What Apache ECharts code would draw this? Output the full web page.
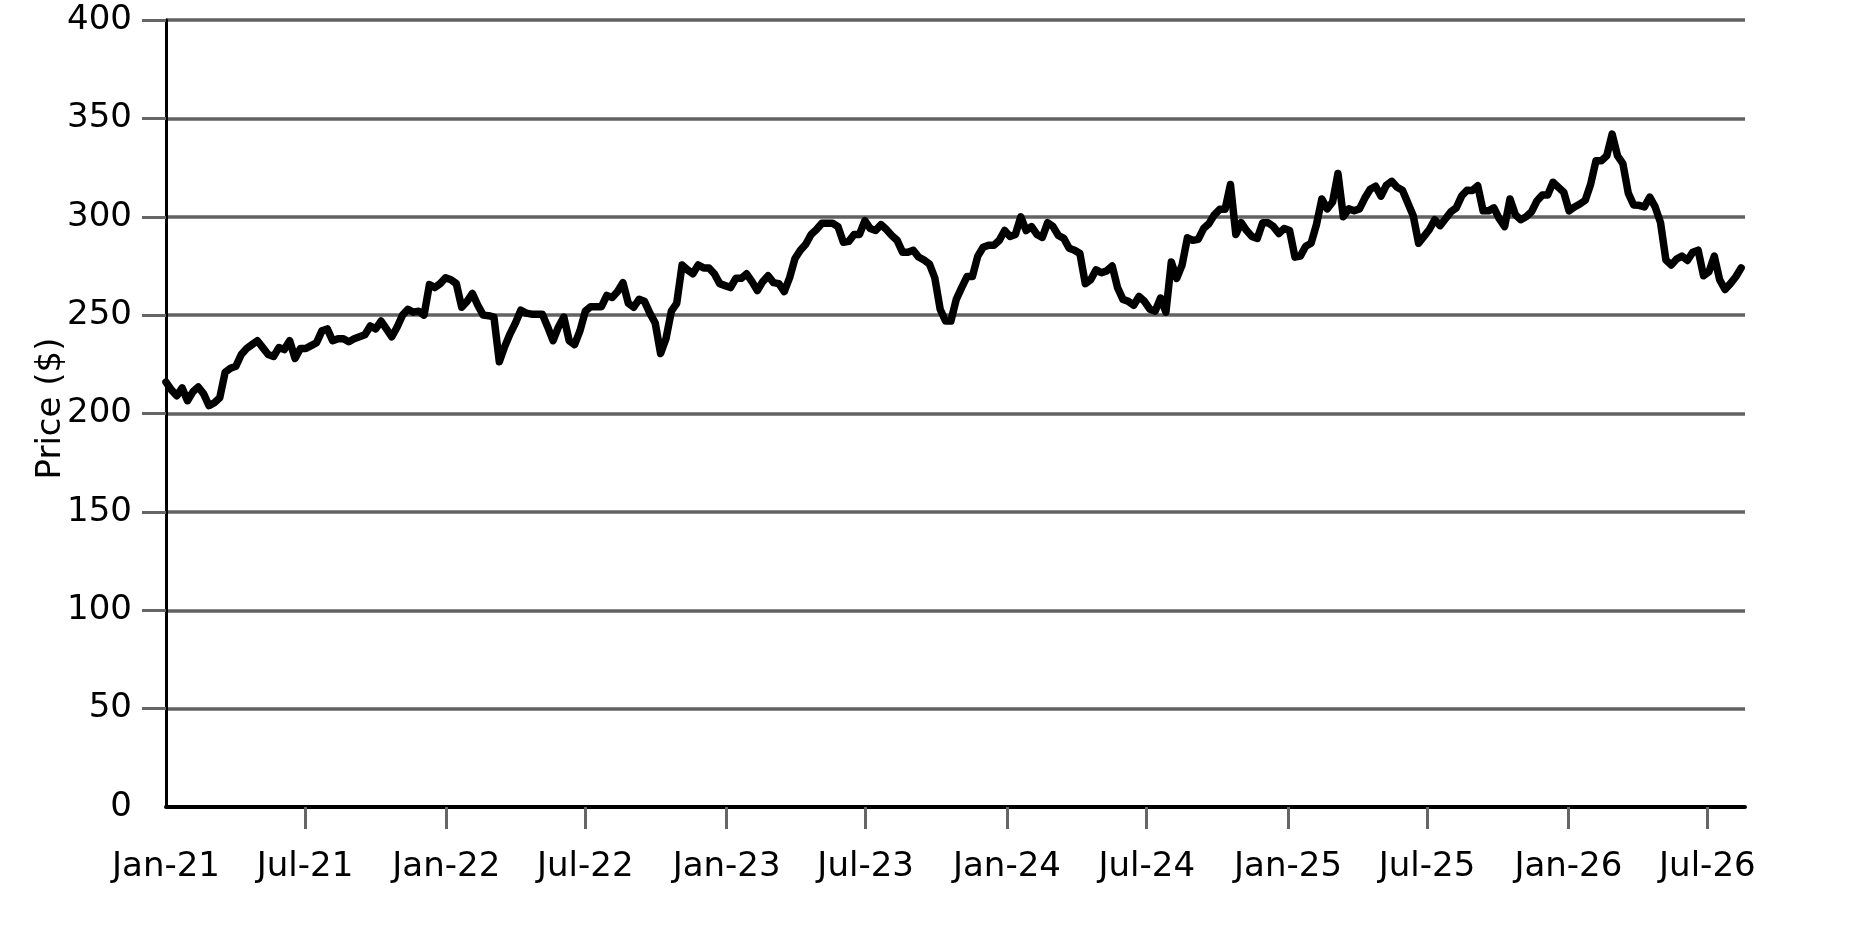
<!DOCTYPE html>
<html>
<head>
<meta charset="utf-8">
<script src="https://cdn.jsdelivr.net/npm/echarts@6/dist/echarts.min.js"></script>
<style>
html,body{margin:0;padding:0;background:#fff;}
#chart{width:1875px;height:938px;}
</style>
</head>
<body>
<div id="chart"></div>
<script>
// ---- data (weekly closing prices) ----
const startYear = 2021, startMonth = 0, startDay = 1; // first weekly observation
const prices = [
216, 212, 209, 213, 206.5, 211, 213.5, 210, 204, 205.5,
208, 221, 223, 224, 230, 233, 235, 237, 233.5, 230,
229, 233.5, 232.5, 237, 228, 233, 233, 234.5, 236, 242,
243, 237, 238, 238, 236.5, 238, 239, 240, 244.5, 243,
247, 243, 239, 244, 250, 253, 251.5, 252, 250, 265.5,
264, 266, 269, 268, 266, 254, 257, 261, 255, 250,
249.7, 249, 226.3, 234, 240.5, 246, 252.5, 251, 250.5, 250.5,
250.5, 244, 237, 244, 249, 237, 235, 242, 252, 254.3,
254.3, 254.3, 260, 259, 262, 266.5, 256, 254, 258, 257,
251, 246, 230.5, 238, 252, 256, 275.5, 273, 271, 275.5,
274, 274, 271, 266, 265, 264, 268.7, 268.7, 271, 267,
262.5, 267, 270, 266.5, 266, 262, 269, 278.8, 283, 286,
291, 293.5, 296.7, 296.7, 296.7, 295, 287, 287.5, 291, 291,
298, 294, 293, 296, 293.5, 290.5, 288, 282, 282, 283,
279.5, 278, 276, 269, 253, 247, 247, 258, 264, 269.6,
269.6, 280, 284.5, 285.5, 285.5, 288, 293, 290, 291, 300,
293, 295, 291, 289.5, 297, 295, 290.5, 289, 284, 283,
281.3, 266, 268, 273, 271.5, 272.5, 275, 264, 258, 257,
255, 259.5, 257, 253, 252, 258.7, 251.5, 277, 268.7, 275.4,
289.3, 288, 288.5, 294, 296.5, 301, 303.8, 303.8, 316.4, 291,
297, 293, 290, 289, 297, 297, 295, 291.5, 294, 293,
279.5, 280, 285, 286.5, 296, 309, 304, 307.5, 322, 300,
304, 303, 304, 309.5, 314, 315.5, 310.5, 316, 318, 315,
313.5, 307, 300.5, 286.5, 290, 293.5, 298.5, 295.5, 299, 302.5,
304.5, 310.5, 313.5, 313.3, 315.8, 303, 303, 304.5, 299, 295,
309, 301, 298.5, 300, 302.5, 308, 311, 311, 317.5, 315,
312.5, 303, 305, 306.5, 308.4, 316.5, 328.5, 328.5, 331, 342,
331, 327, 312, 306, 305.8, 305, 310, 305, 297, 278,
275.5, 278.5, 280, 277.8, 282, 283, 270, 272, 280, 268,
263, 266, 269.5, 274
];
const tickLabels = ['Jan-21','Jul-21','Jan-22','Jul-22','Jan-23','Jul-23','Jan-24','Jul-24','Jan-25','Jul-25','Jan-26','Jul-26'];
const tickDates = [[2021,0],[2021,6],[2022,0],[2022,6],[2023,0],[2023,6],[2024,0],[2024,6],[2025,0],[2025,6],[2026,0],[2026,6]];
const yTicks = [0, 50, 100, 150, 200, 250, 300, 350, 400];
const axisEnd = [2026, 7, 19];

// ---- build series (x = timestamp in ms) ----
const seriesData = prices.map((v, i) => [new Date(startYear, startMonth, startDay + 7 * i).getTime(), v]);
const tickTimes = tickDates.map(d => new Date(d[0], d[1], 1).getTime());
const xMin = new Date(startYear, startMonth, startDay).getTime();
const xMax = new Date(axisEnd[0], axisEnd[1], axisEnd[2]).getTime();

const FONT = 'DejaVu Sans';
const chart = echarts.init(document.getElementById('chart'), null, {renderer: 'canvas'});
chart.setOption({
  animation: false,
  backgroundColor: '#ffffff',
  grid: {left: 166, right: 130, top: 20, bottom: 131, containLabel: false},
  xAxis: {
    type: 'value',
    min: xMin,
    max: xMax,
    scale: true,
    axisLine: {show: true, onZero: false, lineStyle: {color: '#000', width: 4}},
    axisTick: {show: true, customValues: tickTimes.slice(1), length: 22, lineStyle: {color: '#666', width: 3}},
    axisLabel: {
      show: true,
      customValues: tickTimes,
      margin: 43,
      color: '#000',
      fontFamily: FONT,
      fontSize: 34,
      showMinLabel: true,
      showMaxLabel: true,
      formatter: function (val) {
        let best = 0, bd = Infinity;
        for (let k = 0; k < tickTimes.length; k++) {
          const d = Math.abs(tickTimes[k] - val);
          if (d < bd) { bd = d; best = k; }
        }
        return tickLabels[best];
      }
    },
    splitLine: {show: false}
  },
  yAxis: {
    type: 'value',
    min: 0,
    max: 400,
    interval: 50,
    name: 'Price ($)',
    nameLocation: 'middle',
    nameGap: 98,
    nameMoveOverlap: false,
    nameRotate: 90,
    nameTextStyle: {color: '#000', fontFamily: FONT, fontSize: 34, padding: [0, 0, 0, 10]},
    axisLine: {show: true, lineStyle: {color: '#000', width: 3}},
    axisTick: {show: true, customValues: yTicks.slice(1), length: 24, lineStyle: {color: '#666', width: 3}},
    axisLabel: {color: '#000', fontFamily: FONT, fontSize: 34, margin: 34},
    splitLine: {show: true, lineStyle: {color: '#626262', width: 3.5}}
  },
  series: [{
    type: 'line',
    data: seriesData,
    showSymbol: false,
    symbol: 'none',
    lineStyle: {color: '#000', width: 7.5, join: 'round', cap: 'round'},
    z: 5
  }]
});
</script>
</body>
</html>
